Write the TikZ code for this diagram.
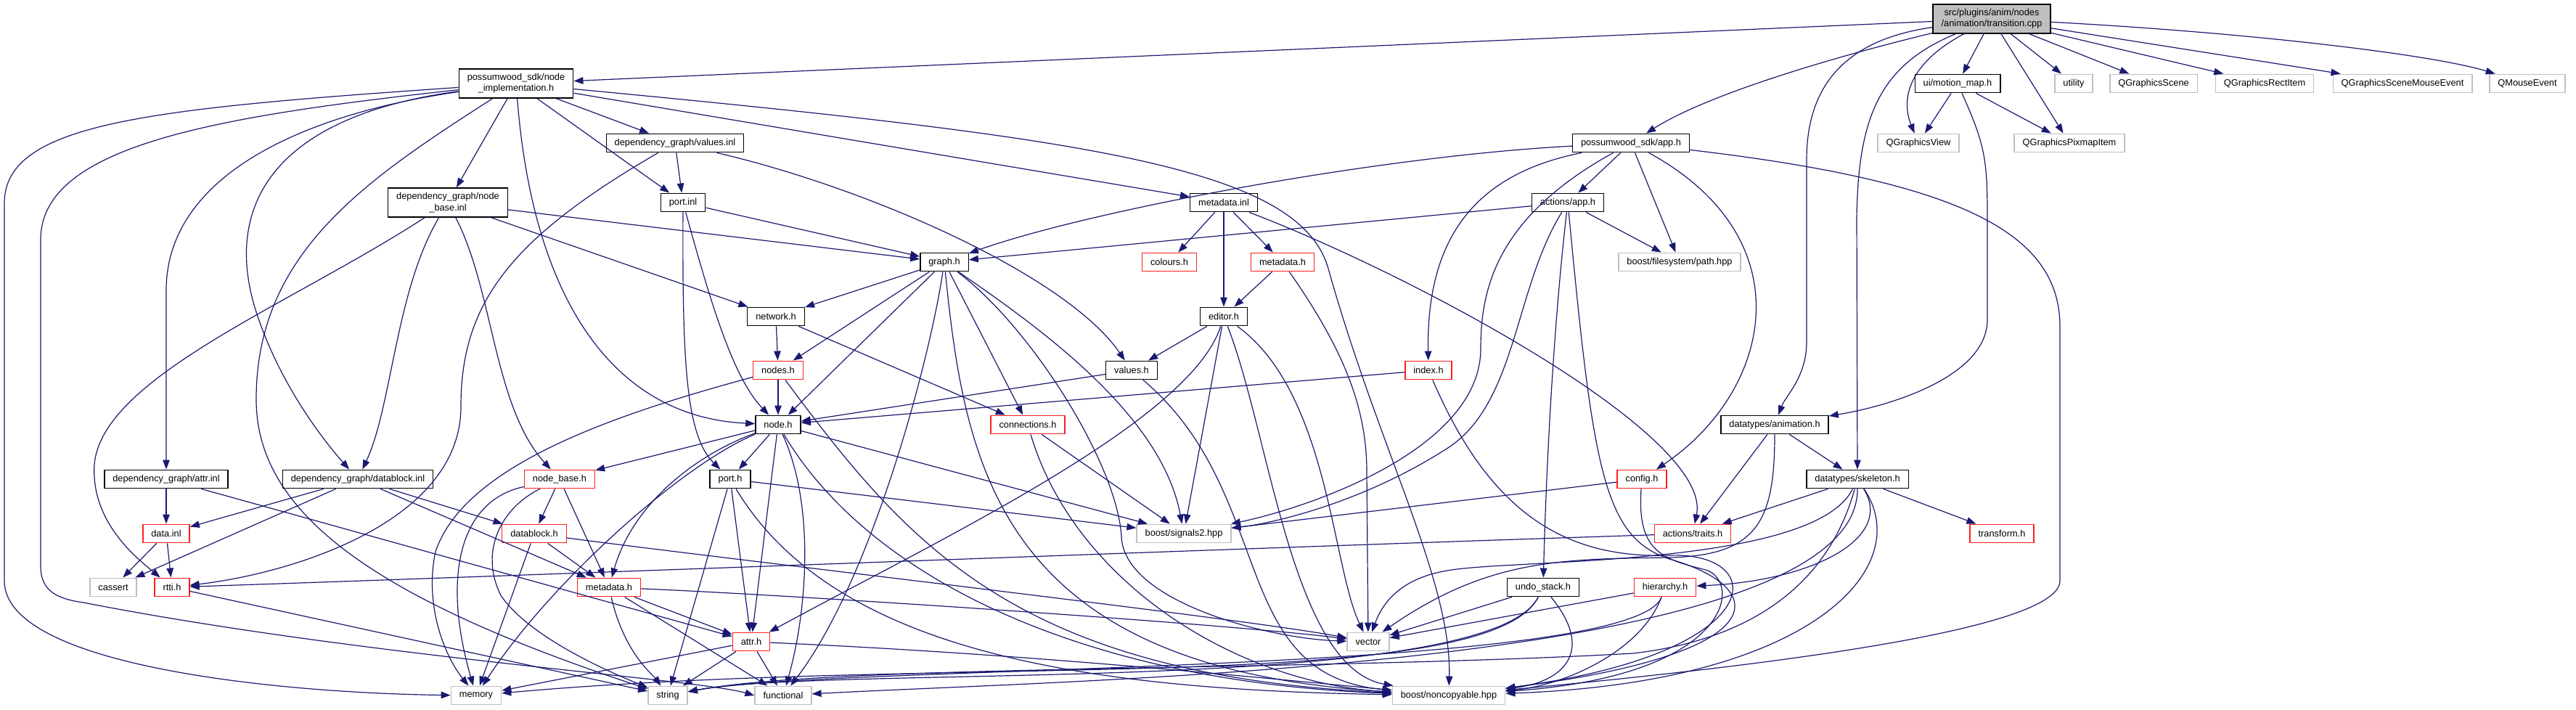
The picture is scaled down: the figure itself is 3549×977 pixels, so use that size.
\documentclass[tikz,border=0pt]{standalone}
\usepackage{fontspec}
\setmainfont{Liberation Sans}
\usetikzlibrary{
    arrows.meta
}
\definecolor{edgeblue}{HTML}{191970}
\definecolor{boxgrey}{HTML}{BFBFBF}
\definecolor{boxred}{HTML}{FF2020}
\tikzset{
  every node/.style={
    draw=black,
    fill=white,
    line width=1.4pt,
    inner xsep=11.5pt,
    inner ysep=2pt,
    minimum height=25.5pt,
    align=center,
    font=\fontsize{12.8}{15.3}\selectfont
  },
  redbox/.style={draw=boxred},
  sysbox/.style={draw=boxgrey},
  rootbox/.style={fill=boxgrey},
  twoline/.style={minimum height=40pt},
  incl/.style={
    edgeblue,
    line width=1.2pt,
    -{Triangle[length=13pt,width=9.5pt]}
  }
}

\begin{document}
\begin{tikzpicture}[x=1pt,y=-1pt]
\useasboundingbox (0,0) rectangle (3549,977);

\node[rootbox,twoline] (root) at (2744,26) {src/plugins/anim/nodes\\/animation/transition.cpp};
\node (motion) at (2697,115) {ui/motion\_map.h};
\foreach \nm/\x/\txt in {utility/2857/utility, qscene/2967/QGraphicsScene,
    qrect/3120/QGraphicsRectItem, qsme/3310/QGraphicsSceneMouseEvent,
    qmouse/3482/QMouseEvent} {
\node[sysbox] (\nm) at (\x,115) {\txt};
}
\node[twoline] (nimpl) at (711,115) {possumwood\_sdk/node\\\_implementation.h};
\node (valinl) at (930,197) {dependency\_graph/values.inl};
\node (app) at (2247,197) {possumwood\_sdk/app.h};
\node[sysbox] (qview) at (2643,197) {QGraphicsView};
\node[sysbox] (pixmap) at (2851,197) {QGraphicsPixmapItem};
\node[twoline] (nbinl) at (617,279) {dependency\_graph/node\\\_base.inl};
\node (portinl) at (941,279) {port.inl};
\node (mdinl) at (1686,279) {metadata.inl};
\node (actapp) at (2160,279) {actions/app.h};
\node (graphh) at (1301,361) {graph.h};
\node[redbox] (colours) at (1611,361) {colours.h};
\node[redbox] (mdh) at (1767,361) {metadata.h};
\node[sysbox] (pathh) at (2314,361) {boost/filesystem/path.hpp};
\node (network) at (1069,436) {network.h};
\node (editor) at (1686,436) {editor.h};
\node[redbox] (nodes) at (1072,510) {nodes.h};
\node (valh) at (1559,510) {values.h};
\node[redbox] (index) at (1968,510) {index.h};
\node (nodeh) at (1072,585) {node.h};
\node[redbox] (conn) at (1416,585) {connections.h};
\node (anim) at (2445,585) {datatypes/animation.h};
\node (attrinl) at (229,660) {dependency\_graph/attr.inl};
\node (dbinl) at (493,660) {dependency\_graph/datablock.inl};
\node[redbox] (nbh) at (771,660) {node\_base.h};
\node (porth) at (1006,660) {port.h};
\node[redbox] (config) at (2262,660) {config.h};
\node (skeleton) at (2559,660) {datatypes/skeleton.h};
\node[redbox] (datainl) at (229,735) {data.inl};
\node[redbox] (dbh) at (736,735) {datablock.h};
\node[sysbox] (signals) at (1631,735) {boost/signals2.hpp};
\node[redbox] (traits) at (2332,735) {actions/traits.h};
\node[redbox] (transform) at (2758,735) {transform.h};
\node[sysbox] (cassert) at (156,809) {cassert};
\node[redbox] (rtti) at (237,809) {rtti.h};
\node[redbox] (mdb) at (839,809) {metadata.h};
\node (undo) at (2126,809) {undo\_stack.h};
\node[redbox] (hierarchy) at (2294,809) {hierarchy.h};
\node[redbox] (attr) at (1035,884) {attr.h};
\node[sysbox] (vector) at (1885,884) {vector};
\node[sysbox] (memory) at (656,958) {memory};
\node[sysbox] (strg) at (920,958) {string};
\node[sysbox] (functional) at (1079,958) {functional};
\node[sysbox] (noncopy) at (1996,958) {boost/noncopyable.hpp};

\foreach \a/\b in {root/motion, root/pixmap, root/utility, root/qscene, root/qrect,
    root/qsme, root/nimpl, motion/qview, motion/pixmap,
    nimpl/valinl, nimpl/nbinl, nimpl/portinl, nimpl/mdinl, valinl/portinl,
    nbinl/graphh, nbinl/network, portinl/graphh, mdinl/colours, mdinl/editor,
    mdinl/mdh, app/actapp, app/pathh, actapp/graphh, actapp/pathh, mdh/editor,
    graphh/network, graphh/nodes, graphh/nodeh, graphh/conn, network/nodes,
    network/conn, editor/valh, editor/signals, nodes/nodeh, valh/nodeh,
    index/nodeh, nodeh/porth, nodeh/nbh, nodeh/signals, nodeh/attr,
    conn/signals, anim/traits, anim/skeleton, config/signals,
    skeleton/traits, skeleton/transform, attr/strg, attr/functional,
    attr/memory, porth/signals, porth/strg, porth/attr, mdb/attr,
    mdb/functional, dbh/mdb, dbh/memory, nbh/dbh, nbh/mdb, datainl/cassert,
    datainl/rtti, dbinl/datainl, dbinl/cassert, dbinl/dbh, dbinl/mdb,
    attrinl/datainl, attrinl/attr, rtti/strg, undo/vector, hierarchy/vector} {
\draw[incl] (\a) -- (\b);
}

\draw[incl] (root) .. controls (3100,45) and (3350,75) .. (qmouse);
\draw[incl] (root) .. controls (2560,70) and (2360,125) .. (app);
\draw[incl] (root) .. controls (2540,55) and (2489,120) .. (2489,220) -- (2489,470)
    .. controls (2489,520) and (2460,545) .. (anim);
\draw[incl] (root) .. controls (2590,90) and (2560,160) .. (2558,300) -- (skeleton);
\draw[incl] (root) .. controls (2625,90) and (2620,140) .. (qview);
\draw[incl] (motion) .. controls (2735,200) and (2738,220) .. (2738,300) -- (2738,440)
    .. controls (2738,520) and (2600,560) .. (anim);

\draw[incl] (nimpl) .. controls (735,420) and (850,575) .. (nodeh);
\draw[incl] (nimpl) .. controls (400,160) and (229,250) .. (229,400) -- (attrinl);
\draw[incl] (nimpl) .. controls (380,160) and (310,280) .. (350,420)
    .. controls (380,520) and (440,600) .. (dbinl);
\draw[incl] (nimpl) .. controls (200,150) and (6,170) .. (6,280) -- (6,800)
    .. controls (6,920) and (400,955) .. (memory);
\draw[incl] (nimpl) .. controls (300,160) and (56,200) .. (56,330) -- (56,780)
    .. controls (56,815) and (80,825) .. (115,830)
    .. controls (500,905) and (960,935) .. (functional.west);
\draw[incl] (nimpl) .. controls (500,250) and (353,350) .. (353,550)
    .. controls (353,700) and (500,820) .. (strg);
\draw[incl] (nimpl) .. controls (1500,190) and (1790,230) .. (1830,370)
    .. controls (1900,620) and (2000,800) .. (noncopy);

\draw[incl] (valinl) .. controls (700,330) and (635,420) .. (635,560)
    .. controls (635,720) and (400,790) .. (rtti);
\draw[incl] (valinl) .. controls (1200,260) and (1470,380) .. (valh);
\draw[incl] (nbinl) .. controls (680,400) and (680,560) .. (nbh);
\draw[incl] (nbinl) .. controls (545,400) and (540,560) .. (dbinl);
\draw[incl] (nbinl) .. controls (400,420) and (140,520) .. (130,640)
    .. controls (125,720) and (190,770) .. (rtti);
\draw[incl] (portinl) .. controls (940,500) and (945,600) .. (porth);
\draw[incl] (portinl) .. controls (980,420) and (1010,520) .. (nodeh);
\draw[incl] (mdinl) .. controls (1950,380) and (2360,600) .. (traits);

\draw[incl] (app) .. controls (1900,215) and (1500,290) .. (graphh);
\draw[incl] (app) .. controls (2030,240) and (1965,330) .. (index);
\draw[incl] (app) .. controls (2060,300) and (2040,400) .. (2040,480)
    .. controls (2040,620) and (1800,700) .. (signals);
\draw[incl] (app) .. controls (2490,330) and (2440,540) .. (config);
\draw[incl] (app) .. controls (2700,250) and (2838,320) .. (2838,450) -- (2838,800)
    .. controls (2838,870) and (2400,920) .. (noncopy);
\draw[incl] (actapp) .. controls (2140,450) and (2130,650) .. (undo);
\draw[incl] (actapp) .. controls (2085,400) and (2090,560) .. (1990,620)
    .. controls (1880,690) and (1760,720) .. (signals);
\draw[incl] (actapp) .. controls (2195,650) and (2210,740) .. (2300,770)
    .. controls (2440,810) and (2450,900) .. (noncopy);
\draw[incl] (mdh) .. controls (1850,480) and (1883,560) .. (1883,650) -- (vector);

\draw[incl] (graphh) .. controls (1280,500) and (1200,800) .. (functional);
\draw[incl] (graphh) .. controls (1330,650) and (1380,920) .. (noncopy);
\draw[incl] (graphh) .. controls (1420,450) and (1540,640) .. (1545,740)
    .. controls (1550,830) and (1750,880) .. (vector);
\draw[incl] (graphh) .. controls (1430,450) and (1600,570) .. (signals);
\draw[incl] (editor) .. controls (1640,580) and (1300,740) .. (attr);
\draw[incl] (editor) .. controls (1830,540) and (1835,780) .. (vector);
\draw[incl] (editor) .. controls (1750,600) and (1780,920) .. (noncopy);
\draw[incl] (nodes) .. controls (850,570) and (640,640) .. (600,760)
    .. controls (585,830) and (610,900) .. (memory);
\draw[incl] (nodes) .. controls (1250,750) and (1400,930) .. (noncopy);
\draw[incl] (valh) .. controls (1760,680) and (1690,930) .. (noncopy);
\draw[incl] (index) .. controls (2050,700) and (2150,770) .. (2300,765)
    .. controls (2440,760) and (2440,900) .. (noncopy);

\draw[incl] (nodeh) .. controls (1125,700) and (1110,850) .. (functional);
\draw[incl] (nodeh) .. controls (940,640) and (760,800) .. (memory);
\draw[incl] (nodeh) .. controls (950,630) and (870,700) .. (mdb);
\draw[incl] (nodeh) .. controls (1200,800) and (1500,940) .. (noncopy);
\draw[incl] (conn) .. controls (1480,800) and (1700,940) .. (noncopy);
\draw[incl] (anim) .. controls (2445,720) and (2420,765) .. (2300,768)
    .. controls (2150,770) and (2050,770) .. (vector);
\draw[incl] (config) .. controls (2255,760) and (2290,770) .. (2350,785)
    .. controls (2400,800) and (2390,930) .. (noncopy);

\draw[incl] (skeleton) .. controls (2610,740) and (2500,800) .. (hierarchy);
\draw[incl] (skeleton) .. controls (2500,780) and (2100,770) .. (2000,785)
    .. controls (1930,795) and (1905,830) .. (vector);
\draw[incl] (skeleton) .. controls (2640,780) and (2500,940) .. (noncopy);
\draw[incl] (skeleton) .. controls (2520,800) and (2420,880) .. (2250,900)
    .. controls (1800,925) and (1150,915) .. (strg);
\draw[incl] (skeleton) .. controls (2560,920) and (1500,935) .. (functional);
\draw[incl] (traits) .. controls (1800,752) and (800,790) .. (rtti);
\draw[incl] (undo) .. controls (2050,960) and (1150,915) .. (strg);
\draw[incl] (undo) .. controls (2050,960) and (1300,900) .. (memory);
\draw[incl] (undo) .. controls (2200,900) and (2150,940) .. (noncopy);
\draw[incl] (hierarchy) .. controls (2250,930) and (1150,915) .. (strg);
\draw[incl] (hierarchy) .. controls (2260,900) and (2150,945) .. (noncopy);

\draw[incl] (attr) .. controls (1400,900) and (1700,930) .. (noncopy);
\draw[incl] (porth) .. controls (1150,900) and (1500,950) .. (noncopy);
\draw[incl] (mdb) .. controls (860,900) and (900,930) .. (strg);
\draw[incl] (mdb) .. controls (1100,820) and (1700,860) .. (vector);
\draw[incl] (dbh) .. controls (1000,770) and (1700,850) .. (vector);
\draw[incl] (nbh) .. controls (630,690) and (610,800) .. (memory);
\draw[incl] (nbh) .. controls (690,700) and (660,760) .. (690,820)
    .. controls (730,880) and (850,930) .. (strg);
\end{tikzpicture}
\end{document}
